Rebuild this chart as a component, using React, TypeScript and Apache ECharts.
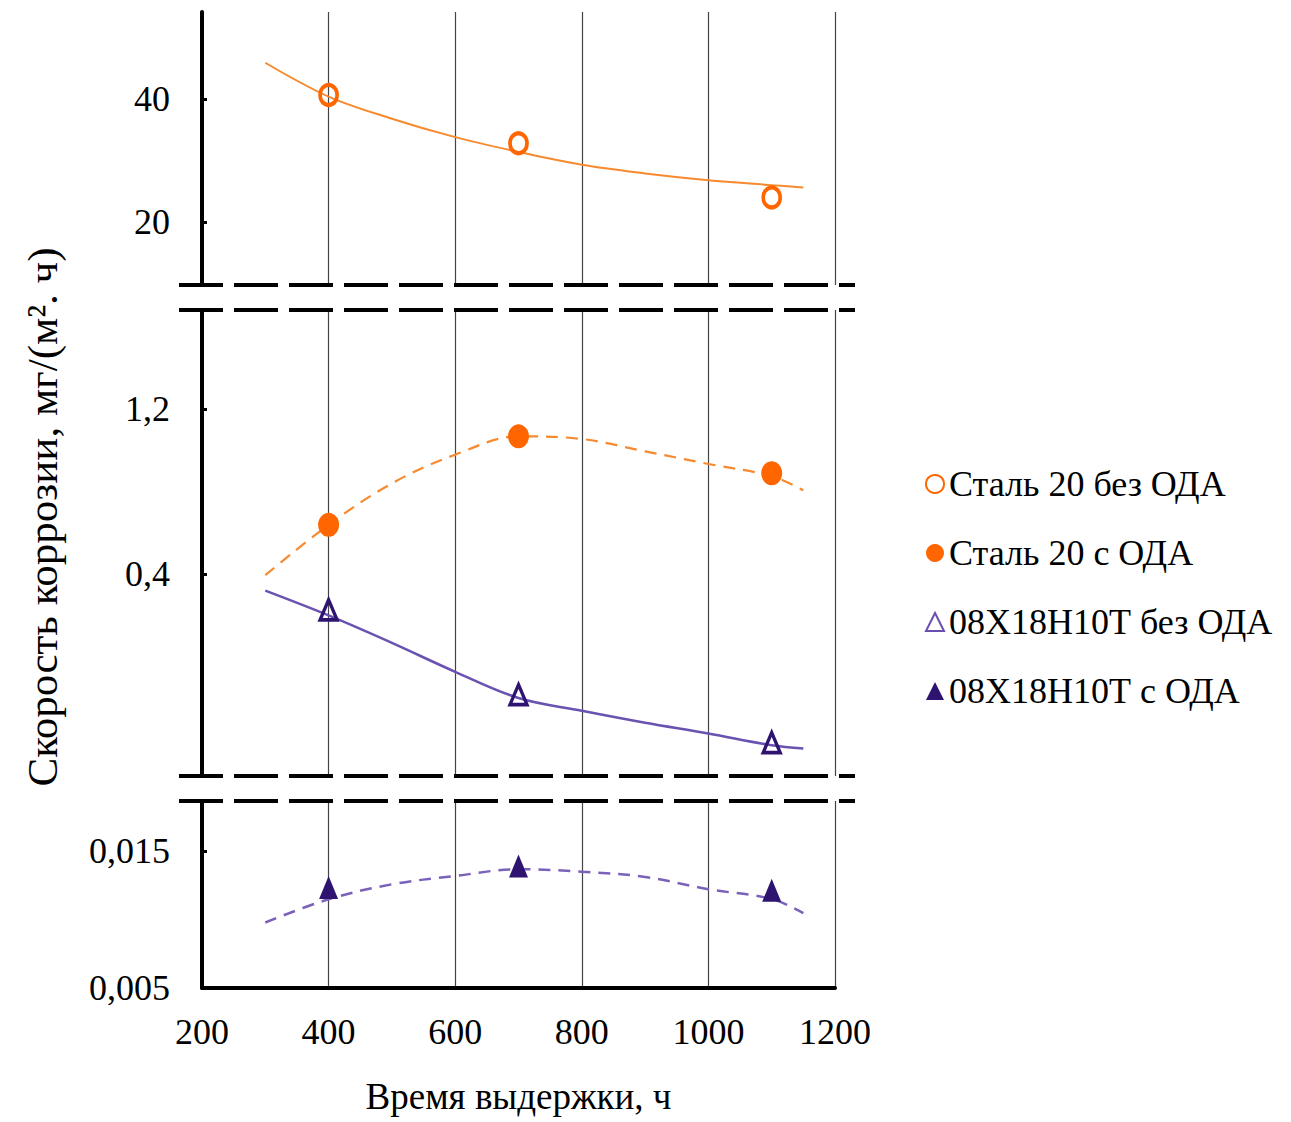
import React, { useEffect, useRef } from "react";
import * as echarts from "echarts";

// ---- data ----
const xTicks = [200, 400, 600, 800, 1000, 1200];
const markerX = [400, 700, 1100];
const steel20NoOda = [40.65, 32.8, 24.0];
const steel20Oda = [0.639, 1.068, 0.889];
const x18NoOda = [0.227, -0.184, -0.416];
const x18Oda = [0.01233, 0.0139, 0.01213];

const trendX = [300, 400, 500, 600, 700, 800, 900, 1000, 1100, 1150];
const steel20NoOdaTrend = [45.9, 40.4, 36.8, 33.8, 31.4, 29.3, 27.9, 26.8, 26.0, 25.6];
const steel20OdaTrend = [0.395, 0.639, 0.84, 0.979, 1.068, 1.055, 0.995, 0.934, 0.875, 0.806];
const x18NoOdaTrend = [0.32, 0.2, 0.067, -0.073, -0.2, -0.262, -0.32, -0.372, -0.429, -0.445];
const x18OdaTrend = [0.00978, 0.01148, 0.01257, 0.01318, 0.01367, 0.01349, 0.01311, 0.01221, 0.0115, 0.01046];

const topTicks = [20, 40];
const midTicks = [0.4, 1.2];
const botTicks = [0.005, 0.015];

const seriesNames = [
  "Сталь 20 без ОДА",
  "Сталь 20 с ОДА",
  "08Х18Н10Т без ОДА",
  "08Х18Н10Т с ОДА",
];
const yTitle = "Скорость коррозии, мг/(м². ч)";
const xTitle = "Время выдержки, ч";

const ORANGE = "#FF6600";
const ORANGE_LINE = "#F78A2E";
const PURPLE = "#2E1470";
const PURPLE_LINE = "#6A52B0";
const PURPLE_DASH = "#7A62BA";
const FONT = "'Liberation Serif', 'Times New Roman', 'DejaVu Serif', serif";

const pairs = (xs: number[], ys: number[]) => xs.map((x, i) => [x, ys[i]]);
const fmt = (v: number) => String(v).replace(".", ",");

export default function App() {
  const ref = useRef<HTMLDivElement>(null);
  useEffect(() => {
    if (!ref.current) return;
    const chart = echarts.init(ref.current, undefined, { renderer: "svg" });

    const grids = [
      { left: 202, width: 633, top: 12, height: 273 },
      { left: 202, width: 633, top: 310, height: 466 },
      { left: 202, width: 633, top: 801, height: 187 },
    ];

    const xAxis = grids.map((_, i) => ({
      type: "value",
      gridIndex: i,
      min: 200,
      max: 1200,
      interval: 200,
      axisLine: { show: i === 2, onZero: false, lineStyle: { color: "#000", width: 4 } },
      axisTick: { show: false },
      axisLabel: {
        show: i === 2,
        fontFamily: FONT,
        fontSize: 36,
        color: "#000",
        margin: 26,
        customValues: xTicks,
        formatter: (v: number) => String(v),
      },
      splitLine: { show: true, lineStyle: { color: "#444", width: 1.2 } },
      name: i === 2 ? xTitle : "",
      nameLocation: "middle",
      nameGap: 90,
      nameTextStyle: { fontFamily: FONT, fontSize: 37, color: "#000" },
    }));

    const yRanges = [
      { min: 9.76, max: 54.15, ticks: topTicks },
      { min: -0.578, max: 1.68, ticks: midTicks },
      { min: 0.005, max: 0.01865, ticks: botTicks },
    ];

    const yAxis = yRanges.map((r, i) => ({
      type: "value",
      gridIndex: i,
      min: r.min,
      max: r.max,
      axisLine: { show: true, onZero: false, lineStyle: { color: "#000", width: 4 } },
      axisTick: {
        show: true,
        inside: true,
        length: 5,
        lineStyle: { color: "#000", width: 3 },
        customValues: r.ticks,
      },
      axisLabel: {
        fontFamily: FONT,
        fontSize: 36,
        color: "#000",
        margin: 32,
        customValues: r.ticks,
        formatter: (v: number) => fmt(v),
      },
      splitLine: { show: false },
    }));

    const trend = (
      i: number,
      ys: number[],
      color: string,
      type: any,
      width: number
    ) => ({
      type: "line",
      name: "trend" + i + color,
      xAxisIndex: i,
      yAxisIndex: i,
      data: pairs(trendX, ys),
      smooth: 0.35,
      symbol: "none",
      lineStyle: { color, width, type },
      silent: true,
      z: 2,
    });

    const option = {
      animation: false,
      backgroundColor: "#fff",
      grid: grids,
      xAxis,
      yAxis,
      legend: {
        orient: "vertical",
        left: 920,
        top: 461,
        itemGap: 33,
        itemWidth: 18,
        itemHeight: 18,
        textStyle: { fontFamily: FONT, fontSize: 36, color: "#000" },
        data: [
          {
            name: seriesNames[0],
            icon: "circle",
            itemStyle: { color: "#fff", borderColor: ORANGE, borderWidth: 2 },
          },
          { name: seriesNames[1], icon: "circle", itemStyle: { color: ORANGE } },
          {
            name: seriesNames[2],
            icon: "triangle",
            itemStyle: { color: "#fff", borderColor: "#6A4FB0", borderWidth: 2 },
          },
          { name: seriesNames[3], icon: "triangle", itemStyle: { color: PURPLE } },
        ],
      },
      series: [
        trend(0, steel20NoOdaTrend, ORANGE_LINE, "solid", 2),
        trend(1, steel20OdaTrend, ORANGE_LINE, [12, 8], 2.2),
        trend(1, x18NoOdaTrend, PURPLE_LINE, "solid", 2.5),
        trend(2, x18OdaTrend, PURPLE_DASH, [12, 8], 2.5),
        {
          type: "scatter",
          name: seriesNames[0],
          xAxisIndex: 0,
          yAxisIndex: 0,
          data: pairs(markerX, steel20NoOda),
          symbol: "circle",
          symbolSize: [17, 20],
          itemStyle: { color: "rgba(255,255,255,0)", borderColor: ORANGE, borderWidth: 4, opacity: 1 },
          z: 5,
        },
        {
          type: "scatter",
          name: seriesNames[1],
          xAxisIndex: 1,
          yAxisIndex: 1,
          data: pairs(markerX, steel20Oda),
          symbol: "circle",
          symbolSize: [21, 24],
          itemStyle: { color: ORANGE, opacity: 1 },
          z: 5,
        },
        {
          type: "scatter",
          name: seriesNames[2],
          xAxisIndex: 1,
          yAxisIndex: 1,
          data: pairs(markerX, x18NoOda),
          symbol: "triangle",
          symbolSize: [17, 20],
          itemStyle: { color: "rgba(255,255,255,0)", borderColor: PURPLE, borderWidth: 3.5, opacity: 1 },
          z: 5,
        },
        {
          type: "scatter",
          name: seriesNames[3],
          xAxisIndex: 2,
          yAxisIndex: 2,
          data: pairs(markerX, x18Oda),
          symbol: "triangle",
          symbolSize: [19, 23],
          itemStyle: { color: PURPLE, opacity: 1 },
          z: 5,
        },
      ],
      graphic: [
        ...[285, 310, 776, 801].map((y) => ({
          type: "line",
          shape: { x1: 179, y1: y, x2: 855, y2: y },
          style: { stroke: "#000", lineWidth: 4, lineDash: [44, 11] },
          z: 10,
        })),
        {
          type: "text",
          x: 42,
          y: 517,
          rotation: Math.PI / 2,
          style: {
            text: yTitle,
            fontFamily: FONT,
            fontSize: 43,
            fill: "#000",
            textAlign: "center",
            textVerticalAlign: "middle",
          },
        },
      ],
    };

    chart.setOption(option as any);
    return () => chart.dispose();
  }, []);

  return (
    <div
      ref={ref}
      style={{ position: "fixed", left: 0, top: 0, width: 1291, height: 1122, background: "#fff" }}
    />
  );
}
